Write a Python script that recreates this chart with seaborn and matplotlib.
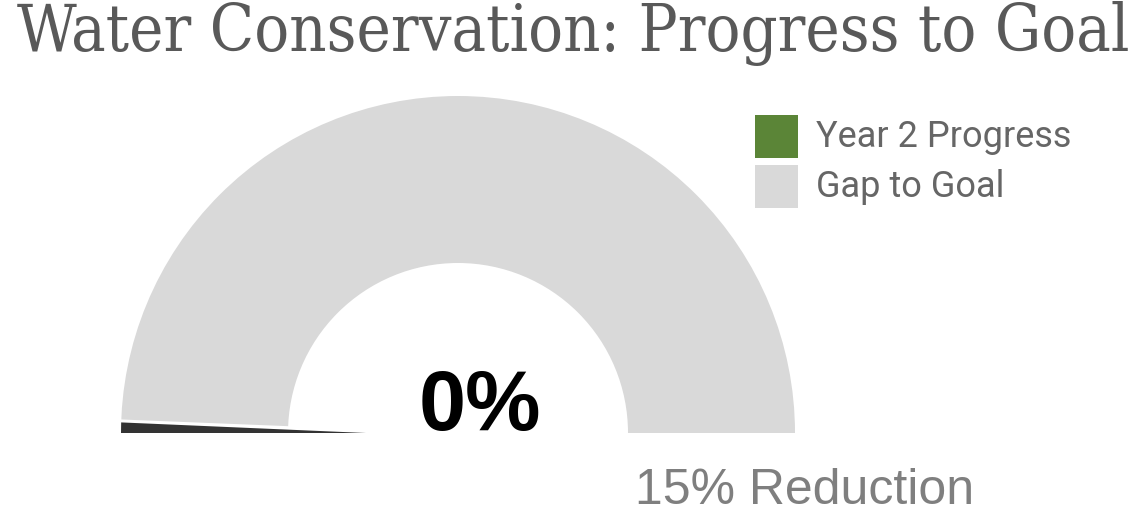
import numpy as np
import matplotlib
matplotlib.use("Agg")
import matplotlib.pyplot as plt
import seaborn as sns
from matplotlib.patches import Polygon, Wedge

# gauge data
labels = ["Year 2 Progress", "Gap to Goal"]
values = [0, 100]          # percent of goal reached / remaining
colors = ["#5b8537", "#d9d9d9"]
progress_label = "0%"
goal_label = "15% Reduction"
title = "Water Conservation: Progress to Goal"

sns.set_theme(style="white")
plt.rcParams["font.family"] = ["Roboto", "DejaVu Sans"]

W, H = 1136, 525
fig = plt.figure(figsize=(W / 100, H / 100), dpi=100)
ax = fig.add_axes([0, 0, 1, 1])

# gauge geometry (pixel units, y measured from bottom)
cx, cy = 458, H - 433
r_out, width = 337, 167

# upper half is the gauge, lower half is hidden
pie_vals = values + [sum(values)]
pie_cols = colors + ["none"]
ax.pie(pie_vals, colors=pie_cols, startangle=180, counterclock=False,
       radius=r_out, center=(cx, cy), frame=True,
       wedgeprops=dict(width=width, linewidth=0))
ax.set_xlim(0, W)
ax.set_ylim(0, H)
ax.set_aspect("equal")
ax.axis("off")

# needle pointing to the progress value, with a white gap around it
ang = np.pi * (1 - values[0] / sum(values))
spread = np.deg2rad(2.0)
ax.add_patch(Wedge((cx, cy), r_out + 2, np.rad2deg(ang - spread) - 0.3,
                   np.rad2deg(ang) + 0.5, facecolor="white", edgecolor="none"))
r_tip = 92
pts = [
    (cx + r_out * np.cos(ang), cy + r_out * np.sin(ang)),
    (cx + r_out * np.cos(ang - spread * 0.9), cy + r_out * np.sin(ang - spread * 0.9)),
    (cx + r_tip * np.cos(ang), cy + r_tip * np.sin(ang)),
]
ax.add_patch(Polygon(pts, closed=True, facecolor="#333333", edgecolor="none"))

# texts
fig.text(573 / W, 1 - 33 / H, title, ha="center", va="center", fontsize=46.5,
         color="#595959", family=["DejaVu Serif", "DejaVu Sans"], fontstretch="condensed")
ax.text(480, H - 430, progress_label, ha="center", va="baseline", fontsize=61,
        fontweight="bold", color="black", family=["Liberation Sans", "DejaVu Sans"])
ax.text(805, H - 504, goal_label, ha="center", va="baseline", fontsize=36,
        color="#7f7f7f", family=["Liberation Sans", "DejaVu Sans"])

# legend
for i, (lab, col) in enumerate(zip(labels, colors)):
    y0 = H - 158 - i * 50
    ax.add_patch(plt.Rectangle((755, y0), 43, 43, facecolor=col, edgecolor="none"))
    ax.text(816, y0 + 21, lab, ha="left", va="center", fontsize=26, color="#666666")

fig.savefig("out.png", dpi=100)
